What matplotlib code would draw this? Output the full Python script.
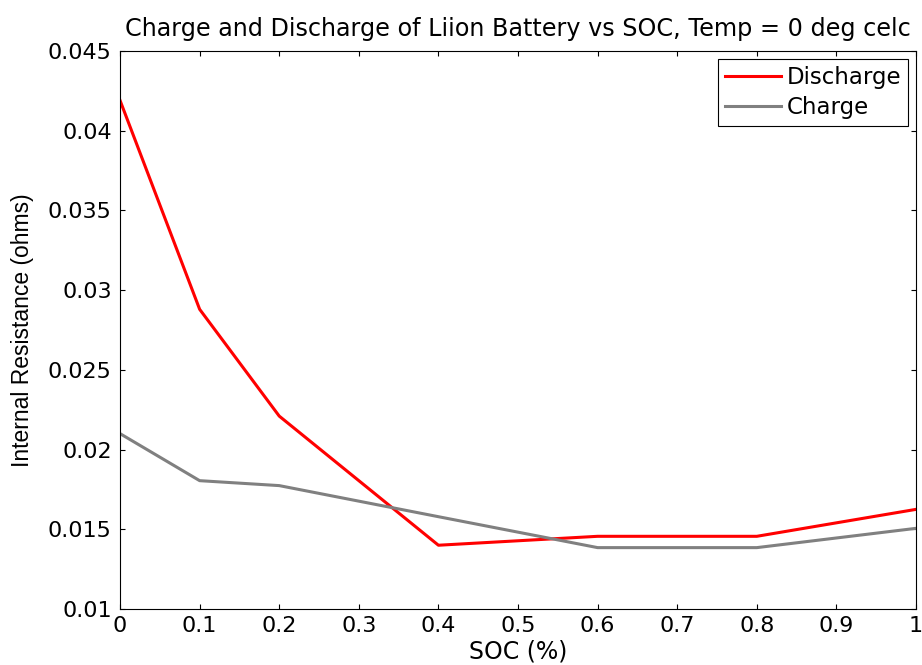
import numpy as np
import matplotlib
matplotlib.use('Agg')
import matplotlib.pyplot as plt

plt.rcParams['font.family'] = 'DejaVu Sans'

# data
soc = [0.0, 0.1, 0.2, 0.4, 0.6, 0.8, 1.0]
r_discharge = [0.0419, 0.0288, 0.0221, 0.0140, 0.01456, 0.01456, 0.01625]
r_charge = [0.0210, 0.01805, 0.01774, 0.01579, 0.01385, 0.01385, 0.01506]

xticks = [0, 0.1, 0.2, 0.3, 0.4, 0.5, 0.6, 0.7, 0.8, 0.9, 1]
xticklabels = ['0', '0.1', '0.2', '0.3', '0.4', '0.5', '0.6', '0.7', '0.8', '0.9', '1']
yticks = [0.01, 0.015, 0.02, 0.025, 0.03, 0.035, 0.04, 0.045]
yticklabels = ['0.01', '0.015', '0.02', '0.025', '0.03', '0.035', '0.04', '0.045']

fig = plt.figure(figsize=(9.22, 6.65), dpi=100)
ax = fig.add_axes([0.1302, 0.0842, 0.8633, 0.8391])

ax.plot(soc, r_discharge, color='red', lw=2.2, label='Discharge')
ax.plot(soc, r_charge, color='#808080', lw=2.2, label='Charge')

ax.set_xlim(0, 1)
ax.set_ylim(0.01, 0.045)
ax.set_xticks(xticks)
ax.set_xticklabels(xticklabels)
ax.set_yticks(yticks)
ax.set_yticklabels(yticklabels)
ax.tick_params(direction='in', length=3.6, width=0.8, top=True, right=True,
               labelsize=16)
ax.tick_params(axis='y', pad=6)
ax.tick_params(axis='x', pad=5)
for sp in ax.spines.values():
    sp.set_linewidth(0.8)

ax.set_title('Charge and Discharge of Liion Battery vs SOC, Temp = 0 deg celc',
             fontsize=17.2, pad=11)
ax.set_xlabel('SOC (%)', fontsize=17, labelpad=2.5)
ax.set_ylabel('Internal Resistance (ohms)', fontsize=16.5, labelpad=10,
              family='Liberation Sans')

leg = ax.legend(loc='upper right', fontsize=16.5, fancybox=False, framealpha=1,
                edgecolor='black', borderpad=0.3, handlelength=2.45,
                handletextpad=0.25, labelspacing=0.3, borderaxespad=0.35)
leg.get_frame().set_linewidth(0.8)

fig.savefig('out.png', dpi=100)
